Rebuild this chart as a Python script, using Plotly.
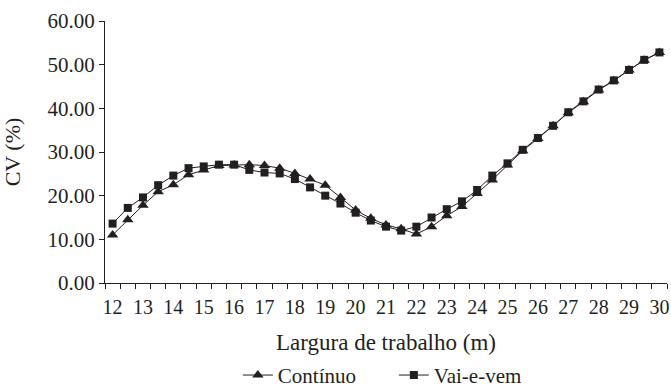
import plotly.graph_objects as go

largura = [12, 12.5, 13, 13.5, 14, 14.5, 15, 15.5, 16, 16.5, 17, 17.5, 18, 18.5, 19, 19.5,
           20, 20.5, 21, 21.5, 22, 22.5, 23, 23.5, 24, 24.5, 25, 25.5, 26, 26.5, 27, 27.5,
           28, 28.5, 29, 29.5, 30]

continuo = [11.0, 14.5, 17.8, 20.9, 22.5, 24.8, 25.9, 26.9, 27.0, 27.1, 26.9, 26.3, 25.1, 23.8,
            22.4, 19.6, 16.7, 14.8, 13.3, 12.4, 11.2, 12.9, 15.4, 17.5, 20.5, 23.6, 27.0, 30.3,
            33.1, 36.0, 39.0, 41.5, 44.2, 46.3, 48.8, 51.0, 52.8]

vai_e_vem = [13.6, 17.2, 19.6, 22.4, 24.6, 26.3, 26.7, 27.1, 27.1, 25.9, 25.3, 25.1, 23.8, 21.9,
             20.0, 18.2, 16.1, 14.3, 12.9, 12.0, 12.9, 15.0, 16.9, 18.7, 21.3, 24.6, 27.4, 30.5,
             33.2, 36.0, 39.1, 41.6, 44.3, 46.4, 48.8, 51.1, 52.8]

x_ticks = list(range(12, 31))
y_ticks = [0, 10, 20, 30, 40, 50, 60]

INK = "#231f20"
FONT = "Liberation Serif"

fig = go.Figure()
fig.add_trace(go.Scatter(
    x=largura, y=continuo, name="Contínuo", mode="lines+markers",
    line=dict(color=INK, width=1),
    marker=dict(symbol="triangle-up", size=10, color=INK),
))
fig.add_trace(go.Scatter(
    x=largura, y=vai_e_vem, name="Vai-e-vem", mode="lines+markers",
    line=dict(color=INK, width=1),
    marker=dict(symbol="square", size=8, color=INK),
))

fig.update_layout(
    width=671, height=387,
    margin=dict(l=105, r=4, t=21, b=104, autoexpand=False),
    paper_bgcolor="white", plot_bgcolor="white",
    font=dict(family=FONT, size=20, color=INK),
    showlegend=True,
    legend=dict(orientation="h", xref="paper", x=0.514, xanchor="center",
                yref="container", y=0.03, yanchor="middle",
                font=dict(family=FONT, size=21), itemwidth=30, tracegroupgap=0,
                entrywidth=111, entrywidthmode="pixels"),
    xaxis=dict(
        range=[11.75, 30.25], tickmode="array", tickvals=x_ticks,
        ticktext=[str(v) for v in x_ticks],
        showgrid=False, zeroline=False, showline=True, linecolor=INK, linewidth=1,
        ticks="outside", ticklen=6, tickcolor="rgba(0,0,0,0)", tickfont=dict(family=FONT, size=20),
        minor=dict(tickmode="linear", tick0=11.75, dtick=0.5, ticks="outside",
                   ticklen=5, tickcolor=INK, showgrid=False),
        title=dict(text="Largura de trabalho (m)", font=dict(family=FONT, size=23), standoff=17),
    ),
    yaxis=dict(
        range=[0, 60], tickmode="array", tickvals=y_ticks,
        ticktext=[f"{v:.2f}" for v in y_ticks],
        showgrid=False, zeroline=False, showline=True, linecolor=INK, linewidth=1,
        ticks="outside", ticklen=5, tickcolor=INK, tickfont=dict(family=FONT, size=21),
        title=dict(text="CV (%)", font=dict(family=FONT, size=22), standoff=20),
    ),
)

fig.write_html(
    "out.html",
    config={"displayModeBar": False},
    post_script=(
        "var s=document.documentElement.style;s.margin='0';s.padding='0';s.overflow='hidden';"
        "var b=document.body.style;b.margin='0';b.padding='0';b.overflow='hidden';"
    ),
)
